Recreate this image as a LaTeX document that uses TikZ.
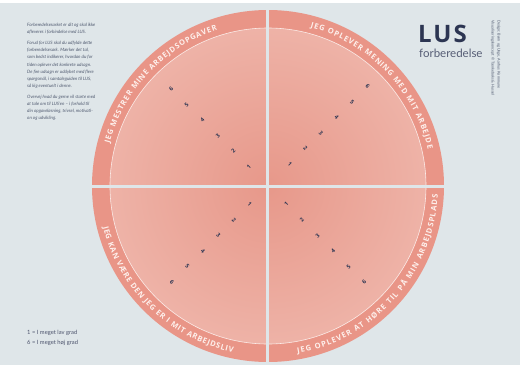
\documentclass[tikz,border=0pt]{standalone}
\usepackage{fontspec}
\setmainfont{Lato}
\newfontfamily\headfont{Open Sans}
\usetikzlibrary{decorations.text}

\definecolor{paper}{RGB}{223,230,233}
\definecolor{ringcol}{RGB}{233,149,135}
\definecolor{diskin}{RGB}{231,152,138}
\definecolor{diskout}{RGB}{245,205,196}
\definecolor{ringtext}{RGB}{254,240,236}
\definecolor{navy}{RGB}{44,53,82}
\definecolor{infogrey}{RGB}{80,90,112}

\pgfdeclareradialshading{diskfade}{\pgfpointorigin}{color(0bp)=(diskin); color(50bp)=(diskout)}

\tikzset{
    numlab/.style={font=\headfont\bfseries\fontsize{5.6}{6}\selectfont, text=navy, inner sep=0pt},
    ringlabel/.style={decorate, decoration={text along path, text align=fit to path,
        text={|\headfont\bfseries\fontsize{7.6}{8}\selectfont\color{ringtext}|#1}}},
    infotext/.style={font=\itshape\fontsize{4.5}{7.2}\selectfont, text=infogrey, align=left, inner sep=0pt},
    creditline/.style={font=\fontsize{3.8}{4}\selectfont, text=infogrey, inner sep=0pt, rotate=-90, anchor=base west},
    gapline/.style={draw=paper, line width=3pt},
}

\begin{document}
\begin{tikzpicture}[x=1pt, y=1pt]
    \useasboundingbox (-268,-182) rectangle (252,186);
    \fill[white] (-268,-182) rectangle (252,186);
    \fill[paper] (-268,-179) rectangle (252,183);
    % ring and disk
    \fill[ringcol] (0,0) circle[radius=176];
    \shade[shading=diskfade] (0,0) circle[radius=158];
    \draw[white!60!diskout, line width=0.6pt] (0,0) circle[radius=158];
    \draw[gapline] (0,-178) -- (0,178);
    \draw[gapline] (-178,0) -- (178,0);
    % ring texts
    \path[ringlabel={JEG MESTRER MINE ARBEJDSOPGAVER}] (165:164) arc[start angle=165, end angle=108, radius=164];
    \path[ringlabel={JEG OPLEVER MENING MED MIT ARBEJDE}] (75:164) arc[start angle=75, end angle=13, radius=164];
    \path[ringlabel={JEG KAN VÆRE DEN JEG ER I MIT ARBEJDSLIV}] (194:170) arc[start angle=194, end angle=258, radius=170];
    \path[ringlabel={JEG OPLEVER AT HØRE TIL PÅ MIN ARBEJDSPLADS}] (280:170) arc[start angle=280, end angle=357, radius=170];
    % scales
    \foreach \k in {1,...,6} {
        \node[numlab, rotate=45] (tl\k) at (135:{27+22*(\k-1)}) {\k};
        \node[numlab, rotate=-45] (tr\k) at (45:{31+22*(\k-1)}) {\k};
        \node[numlab, rotate=-45] (bl\k) at (225:{26+22*(\k-1)}) {\k};
        \node[numlab, rotate=45] (br\k) at (315:{26+22*(\k-1)}) {\k};
    }
    % texts
    \node[infotext, anchor=north west] (intro) at (-241,163) {%
        Forberedelsesarket er dit og skal ikke\\
        afleveres i forbindelse med LUS.\\[3.5pt]
        Forud for LUS skal du udfylde dette\\
        forberedelsesark. Mærker det tal,\\
        som bedst indikerer, hvordan du for\\
        tiden oplever det konkrete udsagn.\\
        De fire udsagn er uddybet med flere\\
        spørgsmål, i samtaleguiden til LUS,\\
        så kig eventuelt i denne.\\[3.5pt]
        Overvej hvad du gerne vil starte med\\
        at tale om til LUS'en -- i forhold til\\
        din opgaveløsning, trivsel, motivati-\\
        on og udvikling.};
    \node[font=\fontsize{5.8}{10}\selectfont, text=navy!85, align=left, inner sep=0pt, anchor=north west]
        (legend) at (-241,-144) {1 = I meget lav grad\\6 = I meget høj grad};
    \node[font=\headfont\bfseries\fontsize{24}{25}\selectfont\addfontfeature{LetterSpace=8}, text=navy, inner sep=0pt, anchor=base west]
        (logo) at (150,144) {LUS};
    \node[font=\fontsize{11.5}{12}\selectfont, text=navy!80, inner sep=0pt, anchor=base west]
        (logosub) at (151,129) {forberedelse};
    \node[creditline] (credit1) at (223.5,166) {Visualiseringskoncept © Tænkeboks \& Hussel};
    \node[creditline] (credit2) at (229.5,166) {Design: Børn og Unge, Aarhus Kommune};
\end{tikzpicture}
\end{document}
